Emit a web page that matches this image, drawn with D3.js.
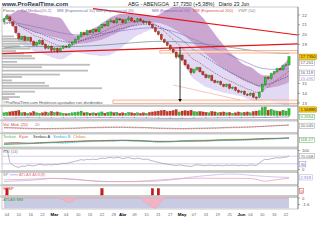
<!DOCTYPE html>
<html><head><meta charset="utf-8">
<script src="https://cdn.jsdelivr.net/npm/d3@7"></script>
<style>html,body{margin:0;padding:0;background:#fff;}svg{display:block;font-family:"Liberation Sans",Arial,sans-serif;}</style>
</head><body><svg id="c" width="320" height="240"></svg>
<script>
const openP = [21.3,21.6,21.8,21.3,20.8,20.1,19.5,19.8,19.4,19.7,
 19.3,18.9,19.1,19.4,19.0,18.6,18.8,18.4,18.6,18.3,
 18.6,18.8,18.7,19.0,19.2,19.5,19.8,20.2,20.0,20.4,
 20.2,20.5,20.3,20.7,21.0,20.9,21.3,21.4,21.2,21.6,
 21.5,21.2,21.5,21.7,21.4,21.3,21.6,21.4,21.2,21.3,
 21.0,20.7,20.3,20.0,19.5,19.2,18.9,18.5,18.2,17.7,
 17.9,17.4,16.9,16.5,16.1,16.4,16.6,16.2,15.9,15.6,
 15.8,15.3,15.1,15.2,14.9,14.7,14.9,14.5,14.6,14.3,
 14.1,14.2,13.9,13.8,14.0,13.6,13.6,14.2,14.9,15.6,
 15.5,16.0,16.2,16.5,16.4,16.8,16.9];
const highP = [21.7,22.1,21.9,21.4,20.9,20.2,19.9,19.9,19.8,19.8,
 19.4,19.3,19.5,19.5,19.1,18.9,18.9,18.7,18.7,18.7,
 18.9,18.9,19.1,19.3,19.6,19.9,20.3,20.3,20.5,20.5,
 20.6,20.6,20.8,21.1,21.1,21.4,21.6,21.5,21.8,21.7,
 21.6,21.6,21.9,21.8,21.5,21.7,21.7,21.5,21.4,21.4,
 21.1,20.8,20.4,20.1,19.6,19.3,19.0,18.6,18.3,18.0,
 18.0,17.5,17.0,16.6,16.5,16.7,16.7,16.3,16.0,15.9,
 15.9,15.4,15.3,15.3,15.0,15.0,15.0,14.7,14.7,14.4,
 14.3,14.3,14.0,14.1,14.1,13.7,14.2,15.0,15.7,15.8,
 16.1,16.3,16.6,16.6,16.9,17.0,17.8];
const lowP = [21.1,21.5,21.3,20.8,20.1,19.4,19.4,19.3,19.3,19.2,
 18.8,18.8,19.0,18.9,18.5,18.5,18.2,18.3,18.1,18.2,
 18.5,18.6,18.6,18.9,19.1,19.4,19.7,19.9,19.9,20.1,
 20.1,20.2,20.2,20.6,20.8,20.8,21.2,21.1,21.1,21.4,
 21.1,21.1,21.4,21.3,21.2,21.2,21.3,21.1,21.1,20.9,
 20.6,20.2,19.9,19.4,19.1,18.8,18.4,18.1,17.5,17.6,
 17.3,16.8,16.4,15.9,16.0,16.3,16.1,15.8,15.5,15.5,
 15.2,15.0,15.0,14.8,14.6,14.6,14.4,14.4,14.2,14.0,
 14.0,13.8,13.7,13.7,13.5,13.3,13.5,14.1,14.8,15.4,
 15.4,15.9,16.1,16.3,16.3,16.7,16.8];
const closeP = [21.6,21.9,21.4,20.9,20.2,19.6,19.8,19.4,19.7,19.3,
 18.9,19.2,19.4,19.0,18.6,18.8,18.4,18.6,18.3,18.6,
 18.8,18.7,19.0,19.2,19.5,19.8,20.2,20.0,20.4,20.2,
 20.5,20.3,20.7,21.0,20.9,21.3,21.4,21.2,21.6,21.5,
 21.2,21.5,21.7,21.4,21.3,21.6,21.4,21.2,21.3,21.0,
 20.7,20.3,20.0,19.5,19.2,18.9,18.5,18.2,17.7,17.9,
 17.4,16.9,16.5,16.1,16.4,16.6,16.2,15.9,15.6,15.8,
 15.3,15.1,15.2,14.9,14.7,14.9,14.5,14.6,14.3,14.1,
 14.2,13.9,13.8,14.0,13.6,13.5,14.1,14.9,15.6,15.5,
 16.0,16.2,16.5,16.4,16.8,16.9,17.735];
const volume = [0.6,0.7,0.8,0.9,1.0,1.1,0.6,0.7,0.5,0.6,
 0.9,0.6,0.5,0.6,0.8,0.6,0.9,0.7,0.8,0.6,
 0.5,0.4,0.5,0.6,0.7,0.8,1.0,0.6,0.7,0.5,
 0.6,0.5,0.6,0.8,0.5,0.7,0.8,0.6,0.7,0.5,
 0.6,0.5,0.7,0.6,0.5,0.6,0.5,0.6,0.5,0.7,
 0.8,0.9,1.0,1.1,1.2,0.9,1.0,1.1,1.3,0.8,
 1.0,1.1,1.0,1.2,0.9,0.8,0.9,0.8,0.7,0.6,
 0.9,0.8,0.6,0.7,0.8,0.6,0.7,0.5,0.6,0.8,
 0.6,0.7,0.8,0.6,0.9,1.0,1.1,1.8,1.9,1.2,
 1.4,1.1,1.0,0.9,1.2,1.0,1.57];
const xTickIdx = [1,5,9,13,17,21,25,29,33,37,40,44,48,52,56,60,64,68,72,76,80,83,87,91,95];
const xTickLabels = ["04","10","16","22","Mar","04","10","16","22","28","Abr","09","15","21","27","May","07","13","19","25","Jun","04","10","16","22"];
const monthNames = ["Mar","Abr","May","Jun"];
const priceTicks = [13,14,15,19,20,21,22];
// volume profile
const vpPrice = [19.8,19.55,19.3,19.05,18.8,18.55,18.3,18.05,17.8,17.55,17.2,16.9,16.65,16.3,15.9,15.65,15.3,15.05,14.75,14.5,14.15,13.9,13.6,13.4];
const vpVol = [12,20,25,43,18,28,14,22,30,33,15,88,40,86,58,20,10,43,47,100,33,13,18,7];
// drawn objects (index, price)
const trendA = [[30,22.65],[99,19.95]];
const trendB = [[-1,18.05],[99,19.05]];
const pinkLine = [[57,14.84],[79.5,13.31]];
const zoneTop = [52.5,18.37,99,18.11];
const zoneBot = [36.7,13.3,99,12.95];
const arrowLine = [[59.3,18.73],[59.3,13.1]];
// sub-panels (sampled every 4 sessions)
const obvLine = [0.3,0.35,0.4,0.35,0.3,0.3,0.35,0.4,0.45,0.4,0.4,0.35,0.3,0.25,0.2,0.2,0.25,0.3,0.35,0.4,0.4,0.45,0.5,0.6,0.7];
const panelBRed = [19.6,19.5,19.3,19.2,19.2,19.3,19.4,19.6,19.7,19.8,19.8,19.7,19.6,19.4,19.3,19.2,19.3,19.4,19.5,19.7,19.8,20.0,20.3,20.6,20.9];
const panelBGray = [19.8,19.7,19.5,19.4,19.4,19.5,19.6,19.8,19.9,20.0,20.0,19.9,19.8,19.6,19.5,19.4,19.5,19.6,19.7,19.9,20.0,20.1,20.3,20.5,20.7];
const panelCCyan = [2,3,2.5,3,3.5,3,4,4.5,5,5,5.5,5,5,4,4.5,5,5.5,5,5.5,6,6,6.5,7,7.5,8];
const panelCRed = [3,3.5,3,3.5,4,4.5,5,5.5,5.5,6,6,5.5,5,4.5,4.5,5,5,5.5,6,6,6.5,7,7.5,8,8.5];
const panelCGreen = [1.5,2,2.5,3,3.5,4,4.5,5,5.5,5.5,6,6,5.5,5,5,5.5,6,6,6.5,7,7,7.5,8,8,8.5];
const adxPink = [21,22,24,26,28,27,24,18,14,12,12,13,16,20,24,27,29,29,28,28,28,26,14,22,29];
const adxLav = [12,15,18,22,28,26,22,17,13,12,12,12,13,15,20,28,36,42,47,50,48,42,38,35,33];
const signalIdx = [1,33,50,52];
const maDip = [0,0,0,0,0,0,0,0,0,0,0,0,0,0,0,0,0,0,0,
 -0.1,-0.3,-0.6,-0.7,-0.5,-0.2,-0.05,
 0,0,0,0,0,0,0,0,0,0,0,0,0,0,0,0,0,0,0,0,
 -0.1,-0.4,-0.8,-1.1,-1.4,-1.6,-1.1,-0.5,-0.1,
 0,0,0,0,0,0,0,0,0,0,0,0,0,0,0,0,0,0,0,0,0,0,0,0,0,0,0,0,0,0,0,0,0,0,0,0,0,0,0,0,0,0];

const svg = d3.select("#c");
const N = closeP.length;
const XL = 2, XR = 298;
const x = d3.scaleLinear().domain([0, N-1]).range([4, 289]);
const sIdx = d3.range(0, N, 4);
const y = d3.scaleLinear().domain([13,22]).range([103,15]);

// header
svg.append("text").attr("x",2).attr("y",5.6).attr("font-size",6).attr("font-weight","bold").attr("fill","#2a3550").text("www.ProRealTime.com");
svg.append("text").attr("x",128).attr("y",5.6).attr("font-size",5.2).attr("fill","#222").style("white-space","pre")
  .text("ABG - ABENGOA   17,7350 (+5,38%)   Diario 23 Jun");

// main panel
const defs = svg.append("defs");
defs.append("clipPath").attr("id","cm").append("rect").attr("x",XL).attr("y",7).attr("width",XR-XL).attr("height",98);
const gm = svg.append("g").attr("clip-path","url(#cm)");

const bb = closeP.map((c,i)=>{const w=closeP.slice(Math.max(0,i-19),i+1);const m=d3.mean(w);const s=Math.sqrt(d3.mean(w,v=>(v-m)*(v-m)));return {i,m,u:m+2*s,l:m-2*s};});
gm.append("path").datum(bb).attr("fill","#e2d9f4")
  .attr("d",d3.area().x(d=>x(d.i)).y0(d=>y(d.l)).y1(d=>y(d.m)).curve(d3.curveMonotoneX));
gm.append("path").datum(bb).attr("fill","#caa6d0")
  .attr("d",d3.area().x(d=>x(d.i)).y0(d=>y(d.m)).y1(d=>y(d.u)).curve(d3.curveMonotoneX));

// volume profile
const vpx = d3.scaleLinear().domain([0,100]).range([0,100]);
gm.selectAll("rect.vp").data(vpPrice).enter().append("rect")
  .attr("x",XL).attr("y",(d)=>y(d)-1).attr("height",1.8)
  .attr("width",(d,i)=>vpx(vpVol[i])).attr("fill","#bdbdbd");

function ema(arr, n, seed){const a=2/(n+1);let e=seed;return arr.map(v=>(e=a*v+(1-a)*e));}
const e10 = ema(closeP,10,closeP[0]);
const e20 = ema(closeP,20,21.0);
const e50 = ema(closeP,50,21.2);
const e200 = ema(closeP,200,18.6);
const ln = d3.line().x((d,i)=>x(i)).y(d=>y(d)).curve(d3.curveMonotoneX);
gm.append("path").datum(e200).attr("fill","none").attr("stroke","#5e8c8c").attr("stroke-width",0.7).attr("d",ln);
gm.append("path").datum(e50).attr("fill","none").attr("stroke","#8870c8").attr("stroke-width",0.6).attr("d",ln);
gm.append("path").datum(e20).attr("fill","none").attr("stroke","#303a90").attr("stroke-width",0.6).attr("stroke-dasharray","1.5,1").attr("d",ln);
gm.append("path").datum(e10).attr("fill","none").attr("stroke","#7a2a2a").attr("stroke-width",0.6).attr("stroke-dasharray","1,1").attr("d",ln);

// zones
[zoneTop, zoneBot].forEach(z=>{
  gm.append("rect").attr("x",x(z[0])).attr("y",y(z[1])).attr("width",x(z[2])-x(z[0])).attr("height",y(z[3])-y(z[1]))
    .attr("fill","#fff5ef").attr("fill-opacity",0.6).attr("stroke","#f09a78").attr("stroke-width",0.7);
});
// trend lines
[trendA,trendB].forEach(t=>{
  gm.append("line").attr("x1",x(t[0][0])).attr("y1",y(t[0][1])).attr("x2",x(t[1][0])).attr("y2",y(t[1][1]))
    .attr("stroke","#e81212").attr("stroke-width",1.1);
});
gm.append("line").attr("x1",x(pinkLine[0][0])).attr("y1",y(pinkLine[0][1])).attr("x2",x(pinkLine[1][0])).attr("y2",y(pinkLine[1][1]))
  .attr("stroke","#f2a0a0").attr("stroke-width",0.6);

// candles
const cg = gm.append("g");
closeP.forEach((c,i)=>{
  const o=openP[i], up=c>=o;
  cg.append("line").attr("x1",x(i)).attr("x2",x(i)).attr("y1",y(highP[i])).attr("y2",y(lowP[i])).attr("stroke","#333").attr("stroke-width",0.5);
  const top=y(Math.max(o,c)), bot=y(Math.min(o,c));
  cg.append("rect").attr("x",x(i)-1.1).attr("width",2.2).attr("y",top).attr("height",Math.max(0.6,bot-top))
    .attr("fill",up?"#2ec42e":"#c8321e").attr("stroke",up?"#146a14":"#6a1a10").attr("stroke-width",0.3);
});

// arrow
gm.append("line").attr("x1",x(arrowLine[0][0])).attr("x2",x(arrowLine[1][0])).attr("y1",y(arrowLine[0][1])).attr("y2",y(arrowLine[1][1])-2).attr("stroke","#000").attr("stroke-width",0.8);
{const ax=x(arrowLine[1][0]), ay=y(arrowLine[1][1]);
 gm.append("path").attr("d",`M${ax-1.8},${ay-3}L${ax+1.8},${ay-3}L${ax},${ay}Z`).attr("fill","#000");}

// legend main
const legT = ["Precio","Bol.Medias(20,2)","MM (Exponencial 10)","MM (Exponencial 20)","MM (Exponencial 50)","MM (Exponencial 200)","VWP (50)"];
const legC = ["#666","#9a6ab0","#6a7ab0","#6a7ab0","#8a6ab0","#e05050","#888"];
const legX = [3,21,57,96,152,193,238];
legT.forEach((t,i)=>svg.append("text").attr("x",legX[i]).attr("y",11.5).attr("font-size",4).attr("fill",legC[i]).text(t));
svg.append("text").attr("x",3).attr("y",103.6).attr("font-size",4).attr("fill","#555").text("©ProRealTime.com Históricos ajustados con dividendos");

// panel frames & separators
const panels = [[7,105],[106.5,119.5],[121,132.5],[134,147],[149,170.5],[172.5,184.5],[186,195.5],[197.5,209]];
panels.forEach(p=>svg.append("rect").attr("x",XL).attr("y",p[0]).attr("width",XR-XL).attr("height",p[1]-p[0]).attr("fill","none").attr("stroke","#999").attr("stroke-width",0.5));
for(let k=0;k<panels.length-1;k++){svg.append("rect").attr("x",0).attr("y",panels[k][1]).attr("width",XR).attr("height",panels[k+1][0]-panels[k][1]).attr("fill","#c8c8c8");}

// volume panel
const yv = d3.scaleLinear().domain([0,1.9]).range([115.5,107]);
svg.selectAll("rect.v").data(volume).enter().append("rect")
  .attr("x",(d,i)=>x(i)-1.1).attr("width",2.2).attr("y",d=>yv(d)).attr("height",d=>yv(0)-yv(d))
  .attr("fill",(d,i)=>closeP[i]>=openP[i]?"#34c034":"#d03020").attr("stroke",(d,i)=>closeP[i]>=openP[i]?"#1a701a":"#701a10").attr("stroke-width",0.25);
const yo = d3.scaleLinear().domain([0,1]).range([119,116]);
svg.append("path").datum(obvLine).attr("fill","none").attr("stroke","#7060c0").attr("stroke-width",0.6)
  .attr("d",d3.line().x((d,i)=>x(sIdx[i])).y(d=>yo(d)));
svg.selectAll("circle.o").data(obvLine).enter().append("circle").attr("cx",(d,i)=>x(sIdx[i])).attr("cy",d=>yo(d)-0.6).attr("r",0.5).attr("fill","#30b030");

// panel B
const yb = d3.scaleLinear().domain([18,22]).range([132,122]);
const lb = d3.line().x((d,i)=>x(sIdx[i])).y(d=>yb(d)).curve(d3.curveMonotoneX);
svg.append("path").datum(panelBGray).attr("fill","none").attr("stroke","#888").attr("stroke-width",0.6).attr("d",lb);
svg.append("path").datum(panelBRed).attr("fill","none").attr("stroke","#d83030").attr("stroke-width",0.7).attr("stroke-dasharray","0.8,0.8").attr("d",lb);
svg.append("text").attr("x",3).attr("y",125.5).attr("font-size",4).attr("fill","#d04040").text("Vol. Med. (20)");
svg.append("text").attr("x",35).attr("y",125.5).attr("font-size",4).attr("fill","#888").text("20");

// panel C
const yc = d3.scaleLinear().domain([0,10]).range([146,136.5]);
const lc = d3.line().x((d,i)=>x(sIdx[i])).y(d=>yc(d)).curve(d3.curveMonotoneX);
svg.append("path").datum(panelCRed).attr("fill","#f6c49c").attr("fill-opacity",0.8)
  .attr("d",d3.area().x((d,i)=>x(sIdx[i])).y0((d,i)=>yc(panelCGreen[i])).y1(d=>yc(d)).curve(d3.curveMonotoneX));
svg.append("path").datum(panelCGreen).attr("fill","none").attr("stroke","#30b030").attr("stroke-width",0.7).attr("d",lc);
svg.append("path").datum(panelCRed).attr("fill","none").attr("stroke","#c83020").attr("stroke-width",0.7).attr("d",lc);
svg.append("path").datum(panelCCyan).attr("fill","none").attr("stroke","#20b8e0").attr("stroke-width",0.9).attr("stroke-dasharray","1,0.8").attr("d",lc);
const cLeg = ["Tenkan","Kijun","Senkou A","Senkou B","Chikou"], cCol=["#40c040","#e04040","#333","#20b0d0","#e08030"];
let cx0=3; cLeg.forEach((t,i)=>{svg.append("text").attr("x",cx0).attr("y",137.5).attr("font-size",4).attr("fill",cCol[i]).text(t); cx0+=t.length*2+4;});

// panel D RSI
let ag=0, al=0; const rsi=[];
closeP.forEach((c,i)=>{ if(i===0){rsi.push(null);return;} const ch=c-closeP[i-1], g=Math.max(ch,0), l=Math.max(-ch,0);
  if(i<=14){ag=(ag*(i-1)+g)/i; al=(al*(i-1)+l)/i;} else {ag=(ag*13+g)/14; al=(al*13+l)/14;}
  rsi.push(al===0?100:100-100/(1+ag/al)); });
rsi[0]=rsi[1];
const yr = d3.scaleLinear().domain([0,100]).range([169.5,150.5]);
[70,30].forEach(v=>svg.append("line").attr("x1",XL).attr("x2",XR).attr("y1",yr(v)).attr("y2",yr(v)).attr("stroke","#b4acec").attr("stroke-width",0.6));
svg.append("path").datum(rsi).attr("fill","none").attr("stroke","#8a8a8a").attr("stroke-width",0.6)
  .attr("d",d3.line().x((d,i)=>x(i)).y(d=>yr(d)).curve(d3.curveMonotoneX));
svg.append("text").attr("x",3).attr("y",152.5).attr("font-size",4).attr("fill","#777").text("RSI (14)");

// panel E
const ye = d3.scaleLinear().domain([0,50]).range([184,174]);
const le = d3.line().x((d,i)=>x(sIdx[i])).y(d=>ye(d)).curve(d3.curveMonotoneX);
svg.append("path").datum(adxLav).attr("fill","none").attr("stroke","#b8b0ec").attr("stroke-width",0.7).attr("d",le);
svg.append("path").datum(adxPink).attr("fill","none").attr("stroke","#e89aa8").attr("stroke-width",0.7).attr("d",le);
svg.append("text").attr("x",3).attr("y",176).attr("font-size",4).attr("fill","#888").text("SP");
svg.append("line").attr("x1",10).attr("x2",18).attr("y1",174.8).attr("y2",174.8).attr("stroke","#b8b0ec").attr("stroke-width",1);
svg.append("text").attr("x",19).attr("y",176).attr("font-size",4).attr("fill","#e07080").text("ATLAS ADX(8)");

// panel F
svg.selectAll("rect.s").data(signalIdx).enter().append("rect")
  .attr("x",d=>x(d)-1.2).attr("width",2.4).attr("y",188.5).attr("height",6.5).attr("fill","#e01010").attr("stroke","#701010").attr("stroke-width",0.3);
svg.append("text").attr("x",3).attr("y",189.8).attr("font-size",4).attr("fill","#d02020").text("SPSP");

// panel G
const yg = d3.scaleLinear().domain([-1.6,0]).range([208.5,198]);
svg.append("path").datum(maDip).attr("fill","#c8cbe2")
  .attr("d",d3.area().x((d,i)=>x(i)).y0(yg(-1.6)).y1(yg(0)));
svg.append("path").datum(maDip).attr("fill","#f2b4c4").attr("stroke","#e090a8").attr("stroke-width",0.3)
  .attr("d",d3.area().x((d,i)=>x(i)).y0(yg(0)).y1(d=>yg(d)));
svg.append("text").attr("x",3).attr("y",201).attr("font-size",4).attr("fill","#40a040").text("ATLAS MM");

// right axis
svg.append("line").attr("x1",XR).attr("x2",XR).attr("y1",7).attr("y2",209).attr("stroke","#555").attr("stroke-width",0.6);
priceTicks.forEach(v=>{
  svg.append("line").attr("x1",XR).attr("x2",XR+2).attr("y1",y(v)).attr("y2",y(v)).attr("stroke","#555").attr("stroke-width",0.5);
  svg.append("text").attr("x",XR+4).attr("y",y(v)+1.5).attr("font-size",4.3).attr("fill","#555").text(v);
});
function box(yc, t, fill, stroke, col){
  const w=t.length*2.15+2;
  svg.append("rect").attr("x",XR+1.5).attr("y",yc-2.6).attr("width",w).attr("height",5.2).attr("fill",fill).attr("stroke",stroke).attr("stroke-width",0.5);
  svg.append("text").attr("x",XR+2.5).attr("y",yc+1.5).attr("font-size",4.2).attr("fill",col).text(t);
}
function lab(yc,t,col){svg.append("text").attr("x",XR+4).attr("y",yc+1.5).attr("font-size",4.2).attr("fill",col||"#555").text(t);
  svg.append("line").attr("x1",XR).attr("x2",XR+2).attr("y1",yc).attr("y2",yc).attr("stroke","#555").attr("stroke-width",0.5);}
box(y(closeP[N-1]),"17.7350","#ffcc00","#a08000","#222");
box(y(closeP[N-1])+6,"17.201","#fff","#999","#555");
box(y(16.1),"16.118","#fff","#999","#5a5ab0");
box(y(16.1)+5.5,"15.496","#fff","#bbb","#a898d8");
box(yv(volume[N-1])+1,"1.5688K","#ffcc00","#a08000","#222");
box(yo(obvLine[obvLine.length-1]),"0.2654","#fff","#60b060","#40a040");
box(yb(panelBRed[panelBRed.length-1])+1,"20.045","#fff","#999","#666");
box(yc(panelCRed[panelCRed.length-1])+2,"118.27","#fff","#60b060","#40a040");
lab(yr(100),"100"); box(yr(70),"70.058","#fff","#999","#666"); box(yr(30)+0.5,"30","#fff","#9090d0","#6060c0"); lab(yr(0),"0");
box(ye(adxLav[adxLav.length-1]),"2.918","#fff","#b0a8e0","#8a80d0");
box(191,"0","#fff","#e04040","#d02020");
lab(yg(0),"0"); lab(yg(-1.0),"-1.6");

// x axis labels
xTickLabels.forEach((t,i)=>{
  const m = monthNames.includes(t);
  svg.append("text").attr("x",x(xTickIdx[i])).attr("y",215.5).attr("text-anchor","middle")
    .attr("font-size",m?4.4:4).attr("font-weight",m?"bold":"normal").attr("fill",m?"#000":"#666").text(t);
});
</script></body></html>
